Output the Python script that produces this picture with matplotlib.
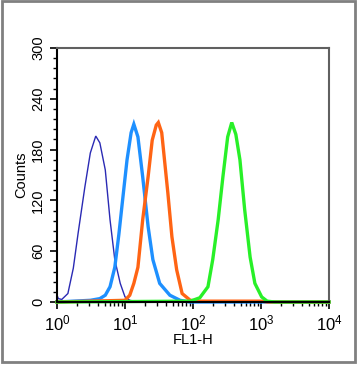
import numpy as np
import matplotlib.pyplot as plt
from matplotlib.patches import Rectangle
from matplotlib.ticker import MultipleLocator, LogLocator, NullFormatter

plt.rcParams['font.family'] = ['Liberation Sans', 'DejaVu Sans']
plt.rcParams['mathtext.fontset'] = 'custom'
plt.rcParams['mathtext.rm'] = 'Liberation Sans'

# histogram outlines: log10(FL1-H) vs counts
navy_x = [0.0, 0.02, 0.07, 0.16, 0.24, 0.31, 0.41, 0.49, 0.57, 0.63, 0.71, 0.78, 0.85, 0.93, 1.0, 1.07, 1.2, 4.0]
navy_y = [8, 4, 3, 10, 40, 81, 136, 176, 196, 188, 156, 97, 50, 22, 6, 2, 0, 0]

lblue_x = [0.0, 0.49, 0.63, 0.71, 0.78, 0.85, 0.91, 0.96, 1.03, 1.09, 1.13, 1.19, 1.26, 1.34, 1.41, 1.51, 1.66, 1.81, 1.95, 4.0]
lblue_y = [0, 2, 4, 8, 18, 41, 80, 117, 168, 200, 210, 195, 148, 89, 50, 22, 8, 2, 0, 0]

orange_x = [0.0, 1.0, 1.07, 1.13, 1.19, 1.26, 1.34, 1.40, 1.46, 1.49, 1.54, 1.63, 1.69, 1.76, 1.84, 1.96, 2.1, 3.0, 3.1, 4.0]
orange_y = [0, 2, 8, 22, 41, 97, 148, 191, 209, 212, 200, 129, 77, 38, 10, 2, 1, 1, 0, 0]

green_x = [0.0, 1.96, 2.10, 2.22, 2.29, 2.37, 2.44, 2.51, 2.57, 2.63, 2.69, 2.76, 2.84, 2.91, 3.01, 3.09, 3.2, 4.0]
green_y = [0, 1, 5, 18, 50, 97, 148, 195, 212, 198, 168, 109, 53, 22, 6, 1, 0, 0]

series = [
    (navy_x, navy_y, '#2a2ab4', 1.0),
    (lblue_x, lblue_y, '#1e90ff', 2.4),
    (orange_x, orange_y, '#ff6414', 2.4),
    (green_x, green_y, '#28f028', 2.4),
]

fig = plt.figure(figsize=(3.58, 3.65), dpi=100)
fig.patches.append(Rectangle((2 / 358, 3 / 365), 353 / 358, 361 / 365, transform=fig.transFigure,
                             fill=False, edgecolor='#808080', linewidth=2))

ax = fig.add_axes([57 / 358, 63 / 365, 272 / 358, 254 / 365])
for xs, ys, color, lw in series:
    ax.plot(10 ** np.array(xs), ys, color=color, lw=lw, clip_on=False, solid_joinstyle='miter')

ax.set_xscale('log')
ax.set_xlim(1, 1e4)
ax.set_ylim(0, 300)
ax.yaxis.set_major_locator(MultipleLocator(60))
ax.yaxis.set_minor_locator(MultipleLocator(12))
ax.xaxis.set_major_locator(LogLocator(base=10, numticks=10))
ax.xaxis.set_minor_locator(LogLocator(base=10, subs=np.arange(2, 10), numticks=20))
ax.xaxis.set_minor_formatter(NullFormatter())

for s in ax.spines.values():
    s.set_color('#606060')
    s.set_linewidth(1.5)
ax.spines['bottom'].set_color('black')
ax.spines['left'].set_color('black')

ax.tick_params(which='major', direction='out', length=5, width=1.2, labelsize=10.5, color='black')
ax.tick_params(axis='x', which='major', labelsize=12, pad=3)
ax.tick_params(which='minor', direction='out', length=3, width=1.0, color='black')
ax.tick_params(axis='y', labelrotation=90)
for lab in ax.get_yticklabels():
    lab.set_va('center')
ax.set_xlabel('FL1-H', fontsize=10.5, labelpad=0)
ax.set_ylabel('Counts', fontsize=10.5, labelpad=2)

fig.savefig('out.png', dpi=100)
